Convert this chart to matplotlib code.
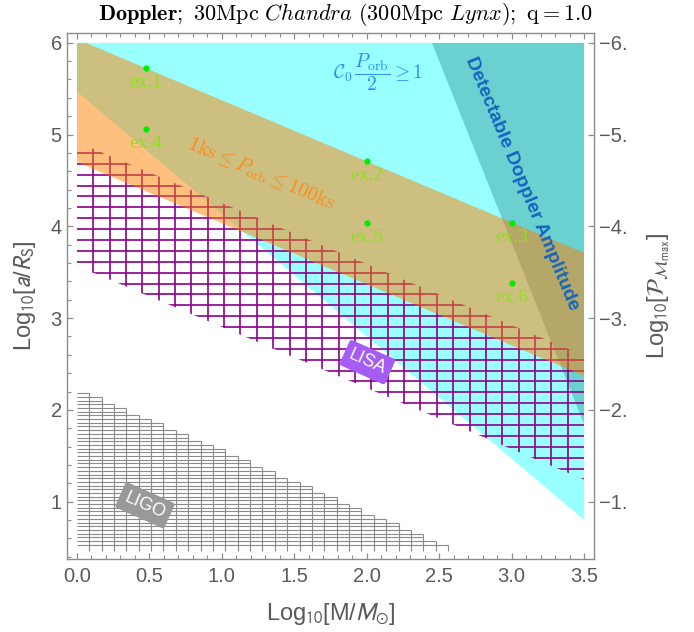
import matplotlib.pyplot as plt
import numpy as np
from matplotlib.patches import Polygon, Rectangle
from matplotlib.ticker import MultipleLocator

plt.rcParams['font.family'] = ['Liberation Sans', 'DejaVu Sans']

# region edges, (log10 M, log10 a/Rs) end points
cyan_edge = [(0.0, 5.47), (3.5, 0.80)]        # C0 Porb/2 >= 1, region above
orange_lo = [(0.0, 4.70), (3.5, 2.37)]        # Porb = 1ks
orange_hi = [(0.0, 6.04), (3.5, 3.71)]        # Porb = 100ks
doppler_edge = [(2.45, 6.0), (3.5, 1.85)]     # detectable Doppler amplitude, region right of it
lisa_lo = [(0.0, 3.57), (3.5, 1.24)]
lisa_hi = [(0.0, 4.92), (3.5, 2.59)]
ligo_top = [(0.0, 2.21), (2.5, 0.53)]
ligo_bottom = 0.53

# example systems
ex_names = ['ex.1', 'ex.2', 'ex.3', 'ex.4', 'ex.5', 'ex.6']
ex_logM = [0.477, 2.0, 3.0, 0.477, 2.0, 3.0]
ex_loga = [5.73, 4.71, 4.04, 5.06, 4.04, 3.38]

x_ticks = [0.0, 0.5, 1.0, 1.5, 2.0, 2.5, 3.0, 3.5]
y_ticks = [1, 2, 3, 4, 5, 6]
right_labels = ['\u22121.', '\u22122.', '\u22123.', '\u22124.', '\u22125.', '\u22126.']

XMAX, YMAX = 3.5, 6.0
gray = '#5a5a5a'

fig = plt.figure(figsize=(6.94, 6.32), dpi=100)
ax = fig.add_axes([0.0961, 0.1155, 0.7602, 0.8328])
ax.set_xlim(-0.07, 3.57)
ax.set_ylim(0.375, 6.11)

clip = Rectangle((0, 0), XMAX, YMAX, transform=ax.transData)

# cyan: C0 Porb/2 >= 1
cyan = Polygon([(0, YMAX), (XMAX, YMAX), cyan_edge[1], cyan_edge[0]],
               closed=True, fc='cyan', alpha=0.4, ec='none', zorder=1)
ax.add_patch(cyan)

# teal: detectable doppler amplitude
teal = Polygon([doppler_edge[0], (XMAX, YMAX), doppler_edge[1]],
               closed=True, fc='#006464', alpha=0.3, ec='none', zorder=2)
ax.add_patch(teal)

# LISA grid hatch, lines clipped to the band
lisa_poly = Polygon([lisa_lo[0], lisa_lo[1], lisa_hi[1], lisa_hi[0]],
                    closed=True, transform=ax.transData)
rows = 4.80 - 0.1186 * np.arange(0, 40)
cols = np.arange(1, 31) * XMAX / 31
hl = ax.hlines(rows, 0, XMAX, colors='#8b008b', lw=1.2, zorder=3)
vl = ax.vlines(cols, 0, YMAX, colors='#8b008b', lw=1.2, zorder=3)
hl.set_clip_path(lisa_poly)
vl.set_clip_path(lisa_poly)

# orange: 1ks <= Porb <= 100ks
orange = Polygon([orange_lo[0], orange_lo[1], orange_hi[1], orange_hi[0]],
                 closed=True, fc='#ff8000', alpha=0.5, ec='none', zorder=4)
ax.add_patch(orange)
orange.set_clip_path(clip)

# LIGO staircase grid
dx = XMAX / 41
dy = 0.0403
lrows = ligo_bottom + dy * np.arange(0, 42)
slope = (ligo_top[1][1] - ligo_top[0][1]) / (ligo_top[1][0] - ligo_top[0][0])
x_edge = ligo_top[0][0] + (lrows - ligo_top[0][1]) / slope
keep = x_edge > 0
lrows = lrows[keep]
row_end = np.ceil(x_edge[keep] / dx) * dx
ax.hlines(lrows, 0, row_end, colors='#8a8a8a', lw=0.8, zorder=3)
lcols = np.arange(1, int(round(row_end.max() / dx)) + 1) * dx
col_top = [lrows[row_end >= c - 1e-9].max() for c in lcols]
ax.vlines(lcols, ligo_bottom - 0.064, col_top, colors='#8a8a8a', lw=0.8, zorder=3)

# example points
ax.plot(ex_logM, ex_loga, 'o', color='#00ee00', ms=4.5, mec='none', zorder=6)
for name, xm, ya in zip(ex_names, ex_logM, ex_loga):
    ax.annotate(name, (xm, ya), xytext=(0, -10.5), textcoords='offset points',
                ha='center', va='center', color='#8ee21c', fontsize=14,
                family='Liberation Serif', zorder=6)

# region labels
ax.text(2.08, 5.68, r'$\mathcal{C}_0\,\dfrac{P_{\rm orb}}{2}\geq 1$', color='#2a8cff',
        fontsize=14, ha='center', va='center', math_fontfamily='cm', zorder=7)
ax.text(1.27, 4.57, r'$1{\rm ks}\leq P_{\rm orb}\leq 100{\rm ks}$', color='#ff8c1a',
        fontsize=14.5, ha='center', va='center', rotation=-23, rotation_mode='anchor',
        math_fontfamily='cm', zorder=7)
ax.text(3.07, 4.47, 'Detectable Doppler Amplitude', color='#1565c0', fontsize=13.8,
        fontweight='bold', ha='center', va='center', rotation=-67.5,
        rotation_mode='anchor', zorder=7)
ax.text(2.005, 2.52, 'LISA', color='white', fontsize=13, ha='center', va='center',
        rotation=-24, rotation_mode='anchor', zorder=7,
        bbox=dict(boxstyle='round,pad=0.3,rounding_size=0.15', fc='#a55cf5', ec='none'))
ax.text(0.47, 0.96, 'LIGO', color='white', fontsize=13, ha='center', va='center',
        rotation=-24, rotation_mode='anchor', zorder=7,
        bbox=dict(boxstyle='round,pad=0.3,rounding_size=0.15', fc='#999999', ec='none'))

# axes styling
for sp in ax.spines.values():
    sp.set_color('#8c8c8c')
    sp.set_linewidth(1.0)
ax.set_xticks(x_ticks)
ax.set_xticklabels([f'{v:.1f}' for v in x_ticks])
ax.set_yticks(y_ticks)
ax.xaxis.set_minor_locator(MultipleLocator(0.1))
ax.yaxis.set_minor_locator(MultipleLocator(0.2))
ax.tick_params(which='both', direction='in', top=True, right=False, color='#8c8c8c',
               labelcolor=gray, labelsize=14.5)
ax.tick_params(which='major', length=4.5, width=0.9)
ax.tick_params(which='minor', length=2.6, width=0.8)
ax.tick_params(axis='x', pad=6)
ax.tick_params(axis='y', pad=3.5)

ax2 = ax.twinx()
ax2.set_ylim(ax.get_ylim())
ax2.set_yticks(y_ticks)
ax2.set_yticklabels(right_labels)
ax2.tick_params(direction='in', length=4.5, width=0.9, color='#8c8c8c',
                labelcolor=gray, labelsize=14.5, pad=3.5)
for sp in ax2.spines.values():
    sp.set_visible(False)

ax.set_xlabel(r'Log$_{10}$[M/$M_{\odot}$]', fontsize=17, color=gray,
              math_fontfamily='stixsans')
ax.set_ylabel(r'Log$_{10}$[$a$/$R_{\rm S}$]', fontsize=17, color=gray,
              math_fontfamily='stixsans')
ax2.set_ylabel(r'Log$_{10}$[$\mathcal{P}_{\mathcal{M}_{\rm max}}$]', fontsize=17,
               color=gray, math_fontfamily='stixsans')
ax.xaxis.set_label_coords(0.5, -0.08)
ax.yaxis.set_label_coords(-0.055, 0.5)
ax2.yaxis.set_label_coords(1.097, 0.5)

fig.text(0.497, 1 - 14 / 632,
         r'$\mathbf{Doppler;}\ 30\mathrm{Mpc}\ \mathit{Chandra}\ (300\mathrm{Mpc}\ \mathit{Lynx});\ \mathrm{q} = 1.0$',
         ha='center', va='center', fontsize=16, math_fontfamily='cm')

fig.savefig('out.png', dpi=100)
